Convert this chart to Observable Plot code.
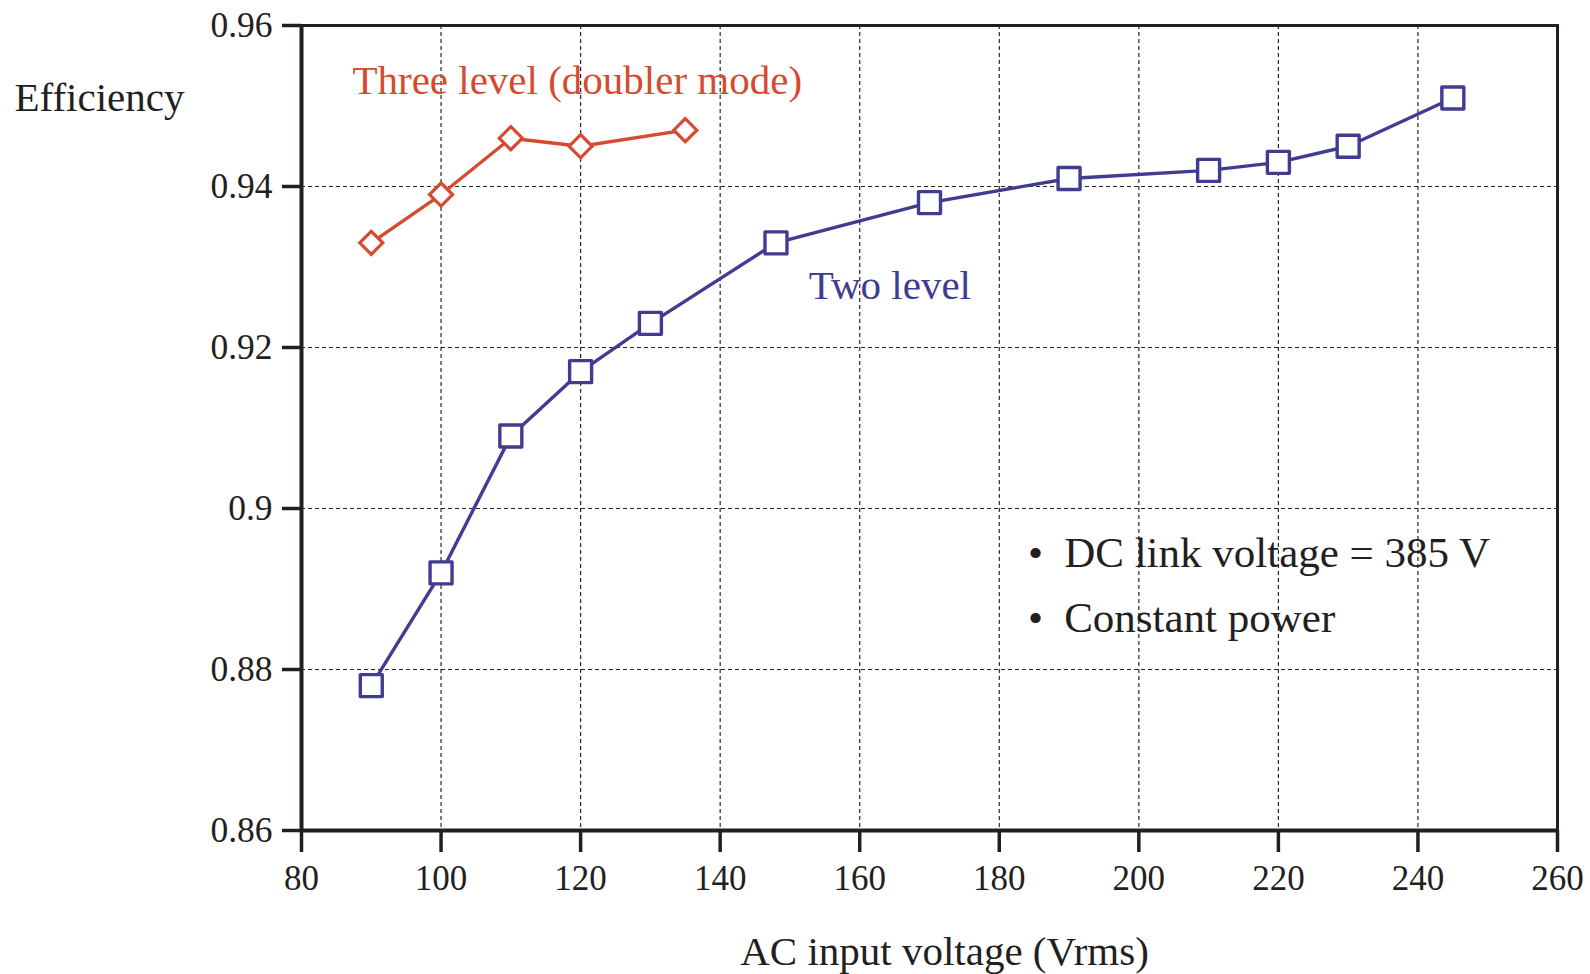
<!DOCTYPE html>
<html>
<head>
<meta charset="utf-8">
<script src="https://cdn.jsdelivr.net/npm/d3@7"></script>
<script src="https://cdn.jsdelivr.net/npm/@observablehq/plot@0.6"></script>
<style>
  html, body { margin: 0; padding: 0; background: #fff; }
  #chart svg { display: block; }
</style>
</head>
<body>
<div id="chart"></div>
<script>
// AC input voltage (Vrms) and measured efficiency for each converter topology
const twoLevelVoltage = [90, 100, 110, 120, 130, 148, 170, 190, 210, 220, 230, 245];
const twoLevelEfficiency = [0.878, 0.892, 0.909, 0.917, 0.923, 0.933, 0.938, 0.941, 0.942, 0.943, 0.945, 0.951];
const threeLevelVoltage = [90, 100, 110, 120, 135];
const threeLevelEfficiency = [0.933, 0.939, 0.946, 0.945, 0.947];

// Axis ticks
const xTicks = [80, 100, 120, 140, 160, 180, 200, 220, 240, 260];
const yTicks = [0.86, 0.88, 0.9, 0.92, 0.94, 0.96];

// Text
const seriesNames = ["Three level (doubler mode)", "Two level"];
const notes = ["DC link voltage = 385 V", "Constant power"];
const xTitle = "AC input voltage (Vrms)";
const yTitle = "Efficiency";

const RED = "#d64a31";
const BLUE = "#403c91";
const INK = "#231f20";

const twoLevel = twoLevelVoltage.map((v, i) => ({v, eff: twoLevelEfficiency[i]}));
const threeLevel = threeLevelVoltage.map((v, i) => ({v, eff: threeLevelEfficiency[i]}));

// Label anchors in data units
const seriesLabels = [
  {name: seriesNames[0], v: 87.3, eff: 0.9531, color: RED},
  {name: seriesNames[1], v: 152.7, eff: 0.9276, color: BLUE}
];
const noteRows = notes.map((text, i) => ({text, eff: [0.8945, 0.8864][i]}));

const chart = Plot.plot({
  width: 1590,
  height: 974,
  marginLeft: 301,
  marginRight: 33,
  marginTop: 25,
  marginBottom: 144,
  style: {fontFamily: "'Liberation Serif', 'Times New Roman', serif", background: "#fff", overflow: "visible"},
  x: {domain: [80, 260]},
  y: {domain: [0.86, 0.96]},
  marks: [
    Plot.gridX(xTicks.slice(1, -1), {stroke: "#000", strokeOpacity: 0.85, strokeWidth: 1.2, strokeDasharray: "4,3"}),
    Plot.gridY(yTicks.slice(1, -1), {stroke: "#000", strokeOpacity: 0.85, strokeWidth: 1.2, strokeDasharray: "4,3"}),
    Plot.frame({stroke: INK, strokeWidth: 3}),
    Plot.ruleX([80], {stroke: INK, strokeWidth: 4}),
    Plot.ruleY([0.86], {stroke: INK, strokeWidth: 4}),
    Plot.axisX(xTicks, {
      tickSize: 22, tickPadding: 13, fontSize: 35, stroke: INK, fill: INK, strokeWidth: 3.5,
      tickFormat: d => String(d), label: null
    }),
    Plot.axisY(yTicks, {
      tickSize: 19, tickPadding: 10, fontSize: 35.5, stroke: INK, fill: INK, strokeWidth: 3.5,
      tickFormat: d => String(d), label: null
    }),
    // Three level (doubler mode)
    Plot.line(threeLevel, {x: "v", y: "eff", stroke: RED, strokeWidth: 3.4}),
    Plot.dot(threeLevel, {x: "v", y: "eff", symbol: "diamond2", r: 10.4, fill: "#fff", stroke: RED, strokeWidth: 3.2}),
    // Two level
    Plot.line(twoLevel, {x: "v", y: "eff", stroke: BLUE, strokeWidth: 3.4}),
    Plot.dot(twoLevel, {x: "v", y: "eff", symbol: "square", r: 12.4, fill: "#fff", stroke: BLUE, strokeWidth: 3.4, strokeLinejoin: "round"}),
    // Series labels
    Plot.text(seriesLabels, {x: "v", y: "eff", text: "name", fill: "color", textAnchor: "start", fontSize: 41}),
    // Operating conditions
    Plot.text(noteRows, {x: () => 185.2, y: "eff", text: () => "•", fill: INK, fontSize: 43}),
    Plot.text(noteRows, {x: () => 189.3, y: "eff", text: "text", fill: INK, textAnchor: "start", fontSize: 43}),
    // Axis titles
    Plot.text([yTitle], {frameAnchor: "top-left", textAnchor: "start", lineAnchor: "middle", dx: -287, dy: 72, fill: INK, fontSize: 41}),
    Plot.text([xTitle], {frameAnchor: "bottom", lineAnchor: "middle", dx: 15, dy: 121, fill: INK, fontSize: 41})
  ]
});

document.getElementById("chart").appendChild(chart);
</script>
</body>
</html>
